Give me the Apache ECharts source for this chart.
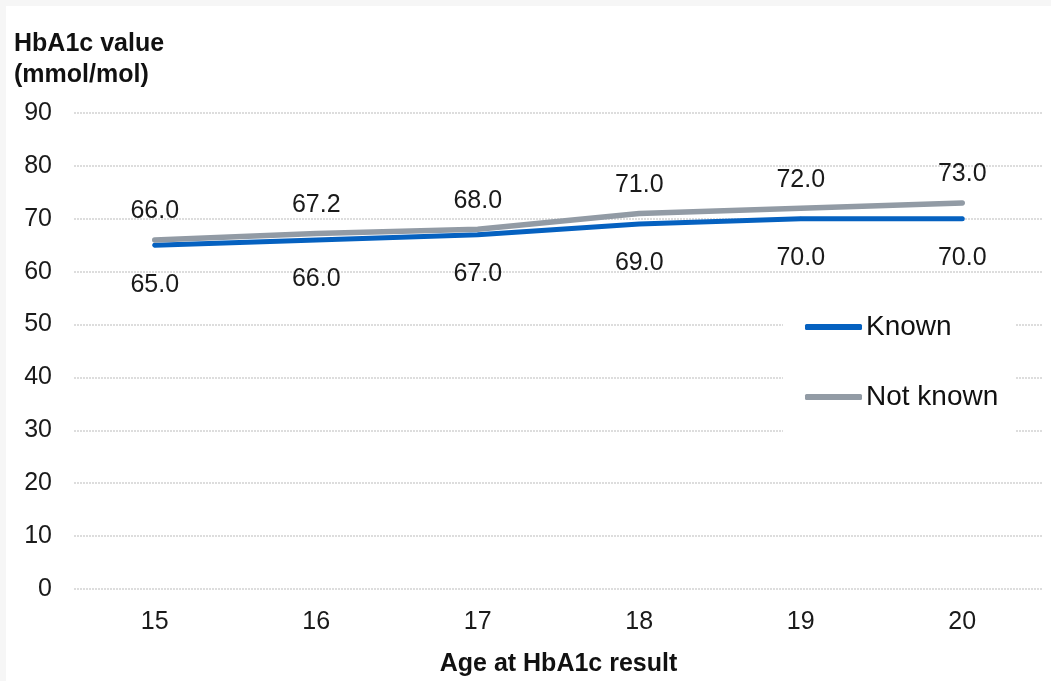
<!DOCTYPE html>
<html>
<head>
<meta charset="utf-8">
<script src="https://cdn.jsdelivr.net/npm/echarts@6/dist/echarts.min.js"></script>
<style>
  html, body { margin: 0; padding: 0; background: #f6f6f6; width: 1051px; height: 681px; overflow: hidden; }
  #chart { position: absolute; left: 6px; top: 6px; width: 1045px; height: 675px; background: #ffffff; }
</style>
</head>
<body>
<div id="chart"></div>
<script>
// Median HbA1c by age at result, split by whether status is known
const ages = ['15', '16', '17', '18', '19', '20'];
const knownValues = [65.0, 66.0, 67.0, 69.0, 70.0, 70.0];
const notKnownValues = [66.0, 67.2, 68.0, 71.0, 72.0, 73.0];
const seriesNames = ['Known', 'Not known'];

const FONT = 'Liberation Sans, Arial, sans-serif';
const BLUE = '#0561c0';
const GREY = '#929ba5';
const chart = echarts.init(document.getElementById('chart'), null, { renderer: 'canvas' });

const labelFmt = p => Number(p.value).toFixed(1);

chart.setOption({
  backgroundColor: '#ffffff',
  animation: false,
  title: {
    text: 'HbA1c value\n(mmol/mol)',
    left: 8,
    top: 23,
    padding: 0,
    textStyle: { fontFamily: FONT, fontSize: 25, fontWeight: 'bold', color: '#111', lineHeight: 31 }
  },
  grid: { left: 68, right: 8, top: 107, bottom: 92, containLabel: false, outerBoundsMode: 'none' },
  legend: {
    orient: 'vertical',
    left: 777,
    top: 286,
    padding: [20, 17, 20, 22],
    backgroundColor: '#ffffff',
    itemGap: 40,
    itemWidth: 57,
    itemHeight: 6,
    icon: 'roundRect',
    data: seriesNames,
    textStyle: { fontFamily: FONT, fontSize: 28, color: '#111', lineHeight: 30, padding: [0, 0, 0, -1] }
  },
  xAxis: {
    type: 'category',
    data: ages,
    boundaryGap: true,
    axisLine: { show: false },
    axisTick: { show: false },
    axisLabel: { fontFamily: FONT, fontSize: 25, color: '#1a1a1a', margin: 21 },
    name: 'Age at HbA1c result',
    nameLocation: 'middle',
    nameGap: 63,
    nameTextStyle: { fontFamily: FONT, fontSize: 25, fontWeight: 'bold', color: '#111' }
  },
  yAxis: {
    type: 'value',
    min: 0,
    max: 90,
    interval: 10,
    axisLine: { show: false },
    axisTick: { show: false },
    axisLabel: { fontFamily: FONT, fontSize: 25, color: '#1a1a1a', margin: 22 },
    splitLine: { lineStyle: { color: '#d2d2d2', width: 1.5, type: [2, 1] } }
  },
  series: [
    {
      name: seriesNames[0],
      type: 'line',
      data: knownValues,
      symbol: 'circle',
      symbolSize: 4,
      showSymbol: true,
      z: 2,
      lineStyle: { color: BLUE, width: 5, cap: 'round' },
      itemStyle: { color: BLUE },
      label: {
        show: true, position: 'bottom', distance: 25, formatter: labelFmt,
        fontFamily: FONT, fontSize: 25, color: '#1a1a1a'
      }
    },
    {
      name: seriesNames[1],
      type: 'line',
      data: notKnownValues,
      symbol: 'circle',
      symbolSize: 4,
      showSymbol: true,
      z: 3,
      lineStyle: { color: GREY, width: 5.5, cap: 'round' },
      itemStyle: { color: GREY },
      label: {
        show: true, position: 'top', distance: 14, formatter: labelFmt,
        fontFamily: FONT, fontSize: 25, color: '#1a1a1a'
      }
    }
  ]
});
</script>
</body>
</html>
